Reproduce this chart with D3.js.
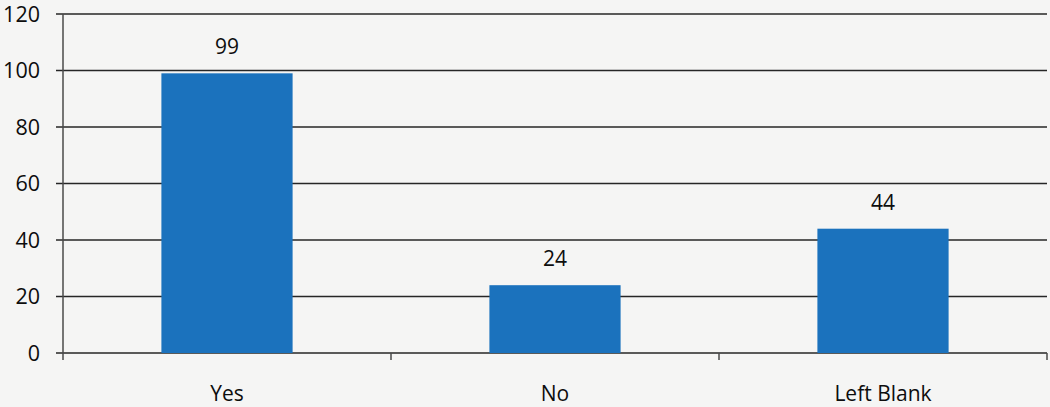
<!DOCTYPE html>
<html>
<head>
<meta charset="utf-8">
<script src="https://cdn.jsdelivr.net/npm/d3@7"></script>
<style>
  html, body { margin: 0; padding: 0; background: #f5f5f4; }
  svg { display: block; }
  text { font-family: "Open Sans", "Noto Sans", sans-serif; fill: #0d0d0d; font-weight: 500; }
</style>
</head>
<body>
<svg id="chart" width="1050" height="407"></svg>
<script>
// Survey responses
const categories = ["Yes", "No", "Left Blank"];
const counts = [99, 24, 44];
const yTicks = [0, 20, 40, 60, 80, 100, 120];

const W = 1050, H = 407;
const margin = { left: 63, right: 3, top: 14, bottom: 54 };

const svg = d3.select("#chart");

svg.append("rect").attr("width", W).attr("height", H).attr("fill", "#f5f5f4");

const x = d3.scaleBand()
  .domain(categories)
  .range([margin.left, W - margin.right])
  .paddingInner(0.6)
  .paddingOuter(0.3);

const y = d3.scaleLinear()
  .domain([0, 120])
  .range([H - margin.bottom, margin.top]);

// horizontal gridlines with left tick stubs
svg.append("g")
  .selectAll("line")
  .data(yTicks)
  .join("line")
  .attr("x1", margin.left - 7)
  .attr("x2", W - margin.right)
  .attr("y1", d => y(d))
  .attr("y2", d => y(d))
  .attr("stroke", "#262626")
  .attr("stroke-width", 1.5);

// y tick labels
svg.append("g")
  .selectAll("text")
  .data(yTicks)
  .join("text")
  .attr("x", 40)
  .attr("y", d => y(d))
  .attr("dy", "0.36em")
  .attr("text-anchor", "end")
  .attr("font-size", 21.5)
  .text(d => d);

// y axis line
svg.append("line")
  .attr("x1", margin.left).attr("x2", margin.left)
  .attr("y1", y(120)).attr("y2", y(0) + 7)
  .attr("stroke", "#4a4a4a").attr("stroke-width", 1.5);

// category boundary ticks below the baseline
const bounds = [1, 2, 3].map(i => margin.left + i * x.step());
svg.append("g")
  .selectAll("line")
  .data(bounds)
  .join("line")
  .attr("x1", d => d).attr("x2", d => d)
  .attr("y1", y(0)).attr("y2", y(0) + 7)
  .attr("stroke", "#4a4a4a").attr("stroke-width", 1.5);

// bars
svg.append("g")
  .selectAll("rect")
  .data(categories)
  .join("rect")
  .attr("x", d => x(d))
  .attr("width", x.bandwidth())
  .attr("y", (d, i) => y(counts[i]))
  .attr("height", (d, i) => y(0) - y(counts[i]))
  .attr("fill", "#1b72bd");

// value labels
svg.append("g")
  .selectAll("text")
  .data(categories)
  .join("text")
  .attr("x", d => x(d) + x.bandwidth() / 2)
  .attr("y", (d, i) => y(counts[i]) - 19)
  .attr("text-anchor", "middle")
  .attr("font-size", 21)
  .text((d, i) => counts[i]);

// category labels
svg.append("g")
  .selectAll("text")
  .data(categories)
  .join("text")
  .attr("x", d => x(d) + x.bandwidth() / 2)
  .attr("y", 401)
  .attr("text-anchor", "middle")
  .attr("font-size", 21)
  .text(d => d);
</script>
</body>
</html>
